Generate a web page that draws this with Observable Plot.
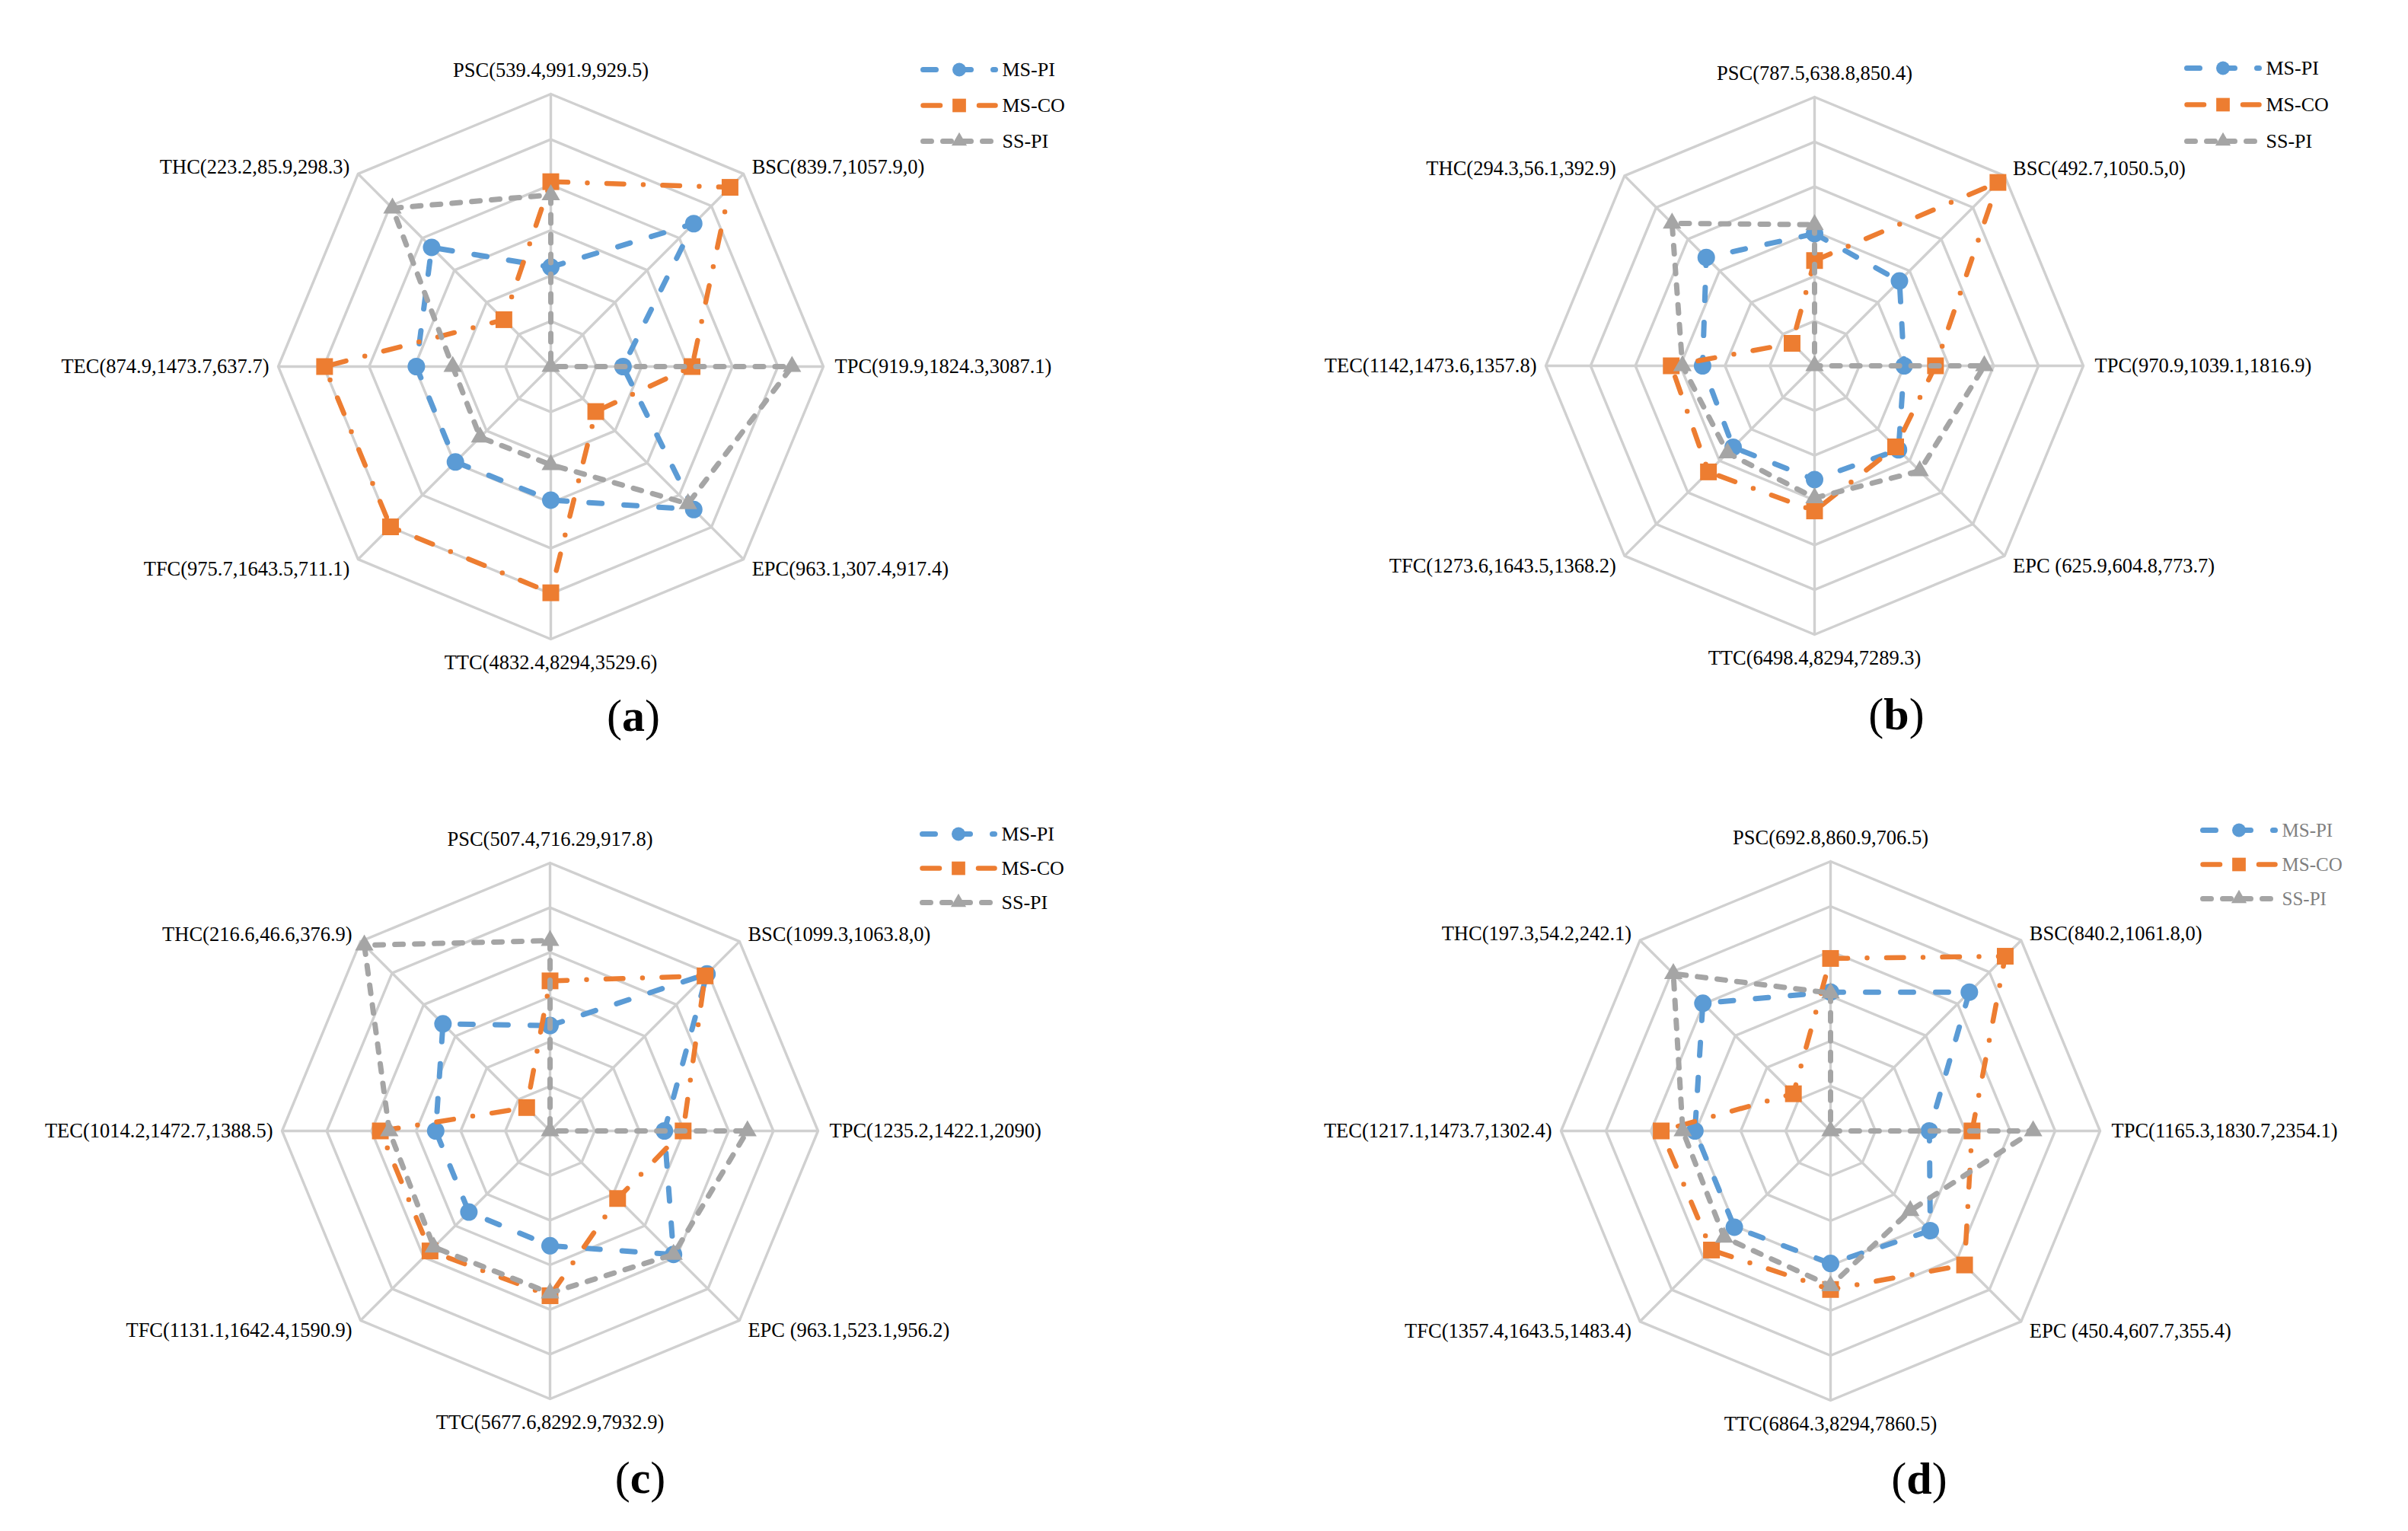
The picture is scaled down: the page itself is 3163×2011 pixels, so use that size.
<!DOCTYPE html>
<html><head><meta charset="utf-8">
<script src="https://cdn.jsdelivr.net/npm/d3@7"></script>
<script src="https://cdn.jsdelivr.net/npm/@observablehq/plot@0.6"></script>
<style>
html,body{margin:0;padding:0;background:#fff;}
body{width:3163px;height:2011px;position:relative;overflow:hidden;font-family:"Liberation Serif",serif;}
.abs{position:absolute;}
.tag{position:absolute;font-family:"Liberation Serif",serif;font-size:60px;color:#000;transform:translate(-50%,-50%);white-space:nowrap;line-height:1;}
</style></head><body>
<script>
// ---------- DATA ----------
const axes = ["PSC","BSC","TPC","EPC","TTC","TFC","TEC","THC"];
const seriesNames = ["MS-PI","MS-CO","SS-PI"];
const ringLevels = [1,2,3,4,5,6];
const panelTags = ["a","b","c","d"];

const labelsA = ["PSC(539.4,991.9,929.5)","BSC(839.7,1057.9,0)","TPC(919.9,1824.3,3087.1)","EPC(963.1,307.4,917.4)","TTC(4832.4,8294,3529.6)","TFC(975.7,1643.5,711.1)","TEC(874.9,1473.7,637.7)","THC(223.2,85.9,298.3)"];
const msPiA = [2.19, 4.45, 1.59, 4.45, 2.94, 2.97, 2.96, 3.71];
const msCoA = [4.07, 5.58, 3.11, 1.40, 4.98, 4.99, 4.98, 1.46];
const ssPiA = [3.78, 0, 5.31, 4.27, 2.16, 2.20, 2.16, 4.93];

const labelsB = ["PSC(787.5,638.8,850.4)","BSC(492.7,1050.5,0)","TPC(970.9,1039.1,1816.9)","EPC (625.9,604.8,773.7)","TTC(6498.4,8294,7289.3)","TFC(1273.6,1643.5,1368.2)","TEC(1142,1473.6,1357.8)","THC(294.3,56.1,392.9)"];
const msPiB = [2.95, 2.68, 2.00, 2.65, 2.54, 2.57, 2.50, 3.42];
const msCoB = [2.35, 5.79, 2.70, 2.56, 3.24, 3.35, 3.20, 0.71];
const ssPiB = [3.15, 0, 3.79, 3.32, 2.95, 2.75, 2.95, 4.50];

const labelsC = ["PSC(507.4,716.29,917.8)","BSC(1099.3,1063.8,0)","TPC(1235.2,1422.1,2090)","EPC (963.1,523.1,956.2)","TTC(5677.6,8292.9,7932.9)","TFC(1131.1,1642.4,1590.9)","TEC(1014.2,1472.7,1388.5)","THC(216.6,46.6,376.9)"];
const msPiC = [2.36, 4.97, 2.56, 3.91, 2.57, 2.57, 2.56, 3.39];
const msCoC = [3.36, 4.91, 2.98, 2.14, 3.69, 3.80, 3.80, 0.74];
const ssPiC = [4.26, 0, 4.42, 3.91, 3.63, 3.68, 3.60, 5.88];

const labelsD = ["PSC(692.8,860.9,706.5)","BSC(840.2,1061.8,0)","TPC(1165.3,1830.7,2354.1)","EPC (450.4,607.7,355.4)","TTC(6864.3,8294,7860.5)","TFC(1357.4,1643.5,1483.4)","TEC(1217.1,1473.7,1302.4)","THC(197.3,54.2,242.1)"];
const msPiD = [3.09, 4.37, 2.20, 3.14, 2.95, 3.03, 3.02, 4.02];
const msCoD = [3.84, 5.50, 3.15, 4.22, 3.53, 3.75, 3.77, 1.17];
const ssPiD = [3.07, 0, 4.51, 2.51, 3.45, 3.35, 3.29, 4.95];

// ---------- STYLE / LAYOUT ----------
const seriesStyle = [
  {color:"#5B9BD5", width:7,   dash:"17,29",             symbol:"circle",   r:11.5, lr:9},
  {color:"#ED7D31", width:6.5, dash:"22.5,25.5,0,25.5",  symbol:"square",   r:12.4, lr:10},
  {color:"#A5A5A5", width:7,   dash:"11,15",             symbol:"triangle", r:9,    lr:7.5}
];
const gridColor = "#d0d0d0";
const labelFont = 26.5;
const labelPlace = [
  {anchor:"middle", dx:0,   dy:-31},
  {anchor:"start",  dx:11,  dy:-9},
  {anchor:"start",  dx:15,  dy:0},
  {anchor:"start",  dx:11,  dy:13},
  {anchor:"middle", dx:0,   dy:31},
  {anchor:"end",    dx:-11, dy:13},
  {anchor:"end",    dx:-12, dy:0},
  {anchor:"end",    dx:-11, dy:-9}
];
const panels = [
  {labels:labelsA, series:[msPiA,msCoA,ssPiA], left:0,    top:0,    W:1581, H:1005, cx:723, cy:481, R:358, lgTop:-391, lgStep:47.5, lgColor:"#000", lgFont:26, tagDx:109, tagDy:459},
  {labels:labelsB, series:[msPiB,msCoB,ssPiB], left:1581, top:0,    W:1582, H:1005, cx:802, cy:480, R:353, lgTop:-391, lgStep:48,   lgColor:"#000", lgFont:26, tagDx:108, tagDy:458},
  {labels:labelsC, series:[msPiC,msCoC,ssPiC], left:0,    top:1005, W:1581, H:1006, cx:722, cy:480, R:352, lgTop:-390, lgStep:45,   lgColor:"#000", lgFont:26, tagDx:119, tagDy:456},
  {labels:labelsD, series:[msPiD,msCoD,ssPiD], left:1581, top:1005, W:1582, H:1006, cx:823, cy:480, R:354, lgTop:-395, lgStep:45,   lgColor:"#7f7f7f", lgFont:25, tagDx:117, tagDy:457}
];

const ang = i => i * Math.PI / 4;
const polar = (r, i) => ({x: r * Math.sin(ang(i)), y: r * Math.cos(ang(i))});

function radar(p) {
  const u = p.R / 6;
  const outer = ringLevels[ringLevels.length - 1];
  const grid = ringLevels.flatMap(r => axes.concat([axes[0]]).map((a, j) => ({ring: r, ...polar(r, j)})));
  const spokes = axes.map((a, i) => ({axis: a, ...polar(outer, i)}));
  const marks = [
    Plot.line(grid, {x: "x", y: "y", z: "ring", stroke: gridColor, strokeWidth: 3.4}),
    Plot.link(spokes, {x1: () => 0, y1: () => 0, x2: "x", y2: "y", stroke: gridColor, strokeWidth: 3.4})
  ];
  p.series.forEach((vals, k) => {
    const s = seriesStyle[k];
    const pts = vals.map((v, i) => ({axis: axes[i], v, ...polar(v, i)}));
    const closed = pts.concat([pts[0]]);
    marks.push(Plot.line(closed, {x: "x", y: "y", stroke: s.color, strokeWidth: s.width,
      strokeDasharray: s.dash, strokeLinecap: "round", strokeLinejoin: "round", curve: "linear"}));
    marks.push(Plot.dot(pts, {x: "x", y: "y", symbol: () => s.symbol, r: s.r, fill: s.color, stroke: "none"}));
  });
  labelPlace.forEach((lp, i) => {
    marks.push(Plot.text([p.labels[i]], {x: () => polar(outer, i).x, y: () => polar(outer, i).y,
      text: d => d, textAnchor: lp.anchor, dx: lp.dx, dy: lp.dy, fontSize: labelFont, fill: "#000"}));
  });
  const chart = Plot.plot({
    width: p.W, height: p.H, margin: 0,
    x: {domain: [-p.cx / u, (p.W - p.cx) / u], axis: null},
    y: {domain: [-(p.H - p.cy) / u, p.cy / u], axis: null},
    symbol: {type: "identity"},
    style: {fontFamily: "Liberation Serif, serif", background: "transparent", overflow: "visible"},
    marks
  });
  chart.classList.add("abs");
  chart.style.left = p.left + "px";
  chart.style.top = p.top + "px";
  document.body.appendChild(chart);

  // legend
  const lw = 240, lh = 150, lx0 = 10, lx1 = 105, ly0 = 25;
  const lmarks = [];
  seriesNames.forEach((name, k) => {
    const s = seriesStyle[k];
    lmarks.push(Plot.line([{x: 0, n: name}, {x: 1, n: name}], {x: "x", y: "n", stroke: s.color, strokeWidth: s.width,
      strokeDasharray: s.dash, strokeLinecap: "round"}));
    lmarks.push(Plot.dot([name], {x: () => 0.5, y: d => d, symbol: () => s.symbol, r: s.lr, fill: s.color}));
  });
  lmarks.push(Plot.text(seriesNames, {x: () => 1, y: d => d, text: d => d, textAnchor: "start", dx: 9,
    fontSize: p.lgFont, fill: p.lgColor}));
  const leg = Plot.plot({
    width: lw, height: lh, marginLeft: lx0, marginRight: lw - lx1, marginTop: 0, marginBottom: 0,
    x: {domain: [0, 1], axis: null},
    y: {type: "point", domain: seriesNames, range: [ly0, ly0 + 2 * p.lgStep], padding: 0, axis: null},
    symbol: {type: "identity"},
    style: {fontFamily: "Liberation Serif, serif", background: "transparent", overflow: "visible"},
    marks: lmarks
  });
  leg.classList.add("abs");
  leg.style.left = (p.left + p.cx + 489 - lx0) + "px";
  leg.style.top = (p.top + p.cy + p.lgTop - ly0) + "px";
  document.body.appendChild(leg);
}

panels.forEach((p, idx) => {
  radar(p);
  const t = document.createElement("div");
  t.className = "tag";
  t.innerHTML = "(<b>" + panelTags[idx] + "</b>)";
  t.style.left = (p.left + p.cx + p.tagDx) + "px";
  t.style.top = (p.top + p.cy + p.tagDy) + "px";
  document.body.appendChild(t);
});
</script>
</body></html>
